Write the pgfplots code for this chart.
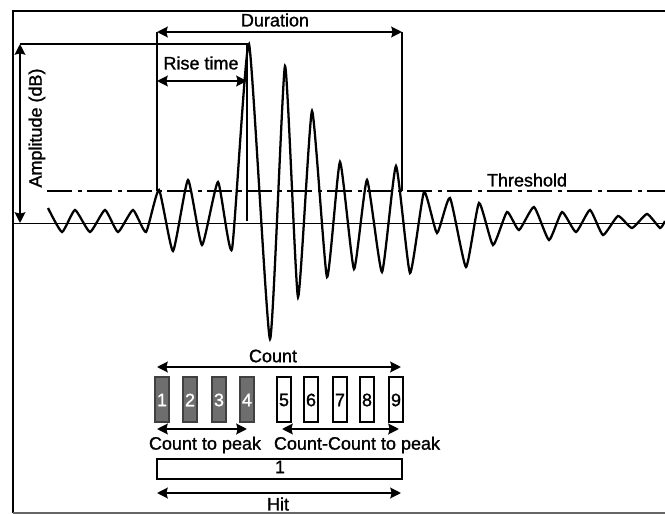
\documentclass[border=0pt]{standalone}
\usepackage{pgfplots}
\pgfplotsset{compat=1.18}
\usetikzlibrary{arrows.meta}
\usepackage{fontspec}
\setmainfont{Liberation Sans}
\newfontfamily\lblfont{Liberation Sans}[FakeBold=1.2]

\definecolor{boxgray}{RGB}{110,110,110}

\begin{document}
\begin{tikzpicture}
\tikzset{
  arr/.style={line width=1.5pt, {Stealth[length=8pt,width=8pt,inset=1pt]}-{Stealth[length=8pt,width=8pt,inset=1pt]}},
  lbl/.style={inner sep=0pt, font=\lblfont\fontsize{13.5}{16}\selectfont},
  gbox/.style={line width=1.1pt, draw=black!75, fill=boxgray},
  wbox/.style={line width=1.1pt, draw=black},
}
\begin{axis}[
    name=main,
    scale only axis,
    width=498.75pt, height=385.5pt,
    xmin=0, xmax=665,
    ymin=0, ymax=514,
    y dir=reverse,
    hide axis,
    clip=false,
]

% frame
\draw[line width=1.9pt] (axis cs:665,11) -- (axis cs:13,11) -- (axis cs:13,513);
\draw[line width=1.2pt, black!60] (axis cs:13,513) -- (axis cs:665,513);

% baseline and threshold
\draw[line width=1.4pt] (axis cs:13,223.5) -- (axis cs:665,223.5);
\draw[line width=1.5pt, dash pattern=on 19pt off 4pt on 3pt off 4pt]
    (axis cs:47,191) -- (axis cs:665,191);

% waveform
\addplot[black, line width=1.7pt, smooth, tension=0.3] coordinates {
(48,208) (62,232) (75,210) (90,232) (105,210) (118,232) (133,210) (146,232)
(159,190) (173,251) (188,180) (202,245) (218,182) (232,249) (249,44)
(270,339) (285,66) (298,297) (312,111) (327,277) (340,162) (354,269)
(367,180) (382,272) (396,166) (410,273) (424,192) (437,233) (450,198)
(466,267) (479,203) (493,245) (507,212) (519,230) (534,207) (549,240)
(562,212) (576,232) (590,210) (603,235) (618,216) (632,228) (647,214)
(660,228) (665,221)
};

% amplitude
\draw[line width=1.5pt] (axis cs:20,44) -- (axis cs:249,44);
\draw[line width=1.5pt] (axis cs:247,44) -- (axis cs:247,221);
\draw[arr] (axis cs:20,44) -- (axis cs:20,223);
\node[lbl, rotate=90] at (axis cs:37,128) {Amplitude (dB)};

% duration
\draw[line width=1.5pt] (axis cs:157,32) -- (axis cs:157,191);
\draw[line width=1.5pt] (axis cs:402,32) -- (axis cs:402,191);
\draw[arr] (axis cs:157,32) -- (axis cs:402,32);
\node[lbl] at (axis cs:275,20) {Duration};

% rise time
\draw[arr] (axis cs:157,81) -- (axis cs:247,81);
\node[lbl] at (axis cs:201,63) {Rise time};

\node[lbl] at (axis cs:527,180) {Threshold};

% counts
\node[lbl] at (axis cs:273,356) {Count};
\draw[arr] (axis cs:157,367) -- (axis cs:401,367);

\draw[gbox] (axis cs:155,377) rectangle (axis cs:169,422);
\draw[gbox] (axis cs:183,377) rectangle (axis cs:197,422);
\draw[gbox] (axis cs:212,377) rectangle (axis cs:226,422);
\draw[gbox] (axis cs:240,377) rectangle (axis cs:254,422);
\node[lbl, white] at (axis cs:162,400) {1};
\node[lbl, white] at (axis cs:190,400) {2};
\node[lbl, white] at (axis cs:219,400) {3};
\node[lbl, white] at (axis cs:247,400) {4};

\draw[wbox] (axis cs:277,377) rectangle (axis cs:291,422);
\draw[wbox] (axis cs:304,377) rectangle (axis cs:318,422);
\draw[wbox] (axis cs:333,377) rectangle (axis cs:347,422);
\draw[wbox] (axis cs:360,377) rectangle (axis cs:374,422);
\draw[wbox] (axis cs:389,377) rectangle (axis cs:403,422);
\node[lbl] at (axis cs:284,400) {5};
\node[lbl] at (axis cs:311,400) {6};
\node[lbl] at (axis cs:340,400) {7};
\node[lbl] at (axis cs:367,400) {8};
\node[lbl] at (axis cs:396,400) {9};

\draw[arr] (axis cs:157,429) -- (axis cs:247,429);
\draw[arr] (axis cs:282,429) -- (axis cs:399,429);
\node[lbl] at (axis cs:205,445) {Count to peak};
\node[lbl] at (axis cs:357,445) {Count-Count to peak};

% hit
\draw[wbox] (axis cs:157,459) rectangle (axis cs:402,479);
\node[lbl] at (axis cs:280,467) {1};
\draw[arr] (axis cs:157,493) -- (axis cs:401,493);
\node[lbl] at (axis cs:278,504) {Hit};

\end{axis}
\pgfresetboundingbox
\path[use as bounding box] (main.south west) rectangle (main.north east);
\end{tikzpicture}
\end{document}
